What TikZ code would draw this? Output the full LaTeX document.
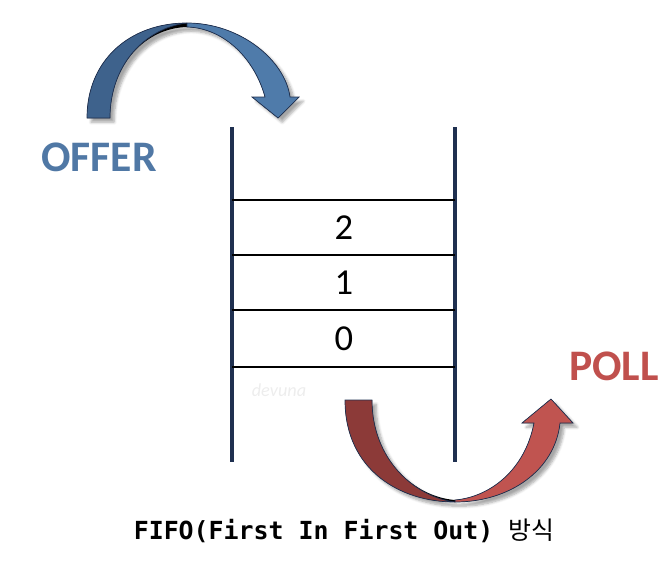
\documentclass[tikz,border=0pt]{standalone}
\usepackage{fontspec}
\setmainfont{Carlito}
\setmonofont{DejaVu Sans Mono}
\newfontfamily\cjk{Noto Sans CJK KR}
\usetikzlibrary{shadows.blur}
\definecolor{wall}{RGB}{31,48,80}
\definecolor{bluedark}{RGB}{62,98,140}
\definecolor{bluelite}{RGB}{79,123,170}
\definecolor{reddark}{RGB}{140,58,56}
\definecolor{redlite}{RGB}{192,84,80}
\definecolor{offertext}{RGB}{80,120,165}
\definecolor{polltext}{RGB}{192,80,77}

\begin{document}
\begin{tikzpicture}[
    x=0.025cm,y=-0.025cm,
    wallline/.style={draw=wall, line width=2.4pt},
    slot/.style={draw=black, line width=1.4pt},
    digit/.style={font=\fontsize{26}{28}\selectfont},
    cmd/.style={font=\fontsize{31}{33}\selectfont\bfseries},
    band/.style={draw=wall, line width=0.5pt},
    shade/.style={blur shadow={shadow xshift=3pt, shadow yshift=-3pt, shadow blur steps=6, shadow opacity=35}}
]
\useasboundingbox (0,0) rectangle (670,560);

% Stack walls
\draw[wallline] (232,127) -- (232,462);
\draw[wallline] (455,127) -- (455,462);

% Slots
\foreach \y in {200,255,310,367}
    \draw[slot] (232,\y) -- (455,\y);

% Slot values
\node[digit] (v2) at (344,228) {2};
\node[digit] (v1) at (344,283) {1};
\node[digit] (v0) at (344,339) {0};

% Watermark
\node[font=\fontsize{13}{14}\selectfont\itshape, text=black!7] (mark) at (279,390) {devuna};

% Offer arrow (blue)
\fill[shade] (87,118) .. controls (87,60) and (130,23) .. (187,23)
    .. controls (240,23) and (285,60) .. (290,97) -- (299,97) -- (278,118)
    -- (252,97) -- (265,97) .. controls (255,60) and (225,28) .. (187,27)
    .. controls (145,28) and (110,65) .. (110,118) -- cycle;
\filldraw[band, fill=bluedark] (87,118) .. controls (87,60) and (130,23) .. (187,23)
    .. controls (145,28) and (110,65) .. (110,118) -- cycle;
\filldraw[band, fill=bluelite] (187,23) .. controls (240,23) and (285,60) .. (290,97)
    -- (299,97) -- (278,118) -- (252,97) -- (265,97)
    .. controls (255,60) and (225,28) .. (187,27) -- cycle;

% Poll arrow (red)
\fill[shade] (345,400) .. controls (345,470) and (400,502) .. (455,502)
    .. controls (510,502) and (555,470) .. (560,423) -- (573,423) -- (551,399)
    -- (522,423) -- (534,423) .. controls (525,470) and (490,497) .. (455,500)
    .. controls (415,497) and (372,460) .. (372,400) -- cycle;
\filldraw[band, fill=reddark] (345,400) .. controls (345,470) and (400,502) .. (455,502)
    .. controls (415,497) and (372,460) .. (372,400) -- cycle;
\filldraw[band, fill=redlite] (455,502) .. controls (510,502) and (555,470) .. (560,423)
    -- (573,423) -- (551,399) -- (522,423) -- (534,423)
    .. controls (525,470) and (490,497) .. (455,500) -- cycle;

% Labels
\node[cmd, text=offertext] (offer) at (99,157) {OFFER};
\node[cmd, text=polltext] (poll) at (614,366) {POLL};
\node[font=\fontsize{17.7}{19}\selectfont\ttfamily\bfseries] (caption) at (344,531)
    {FIFO(First In First Out) {\cjk\mdseries 방식}};

\end{tikzpicture}
\end{document}
